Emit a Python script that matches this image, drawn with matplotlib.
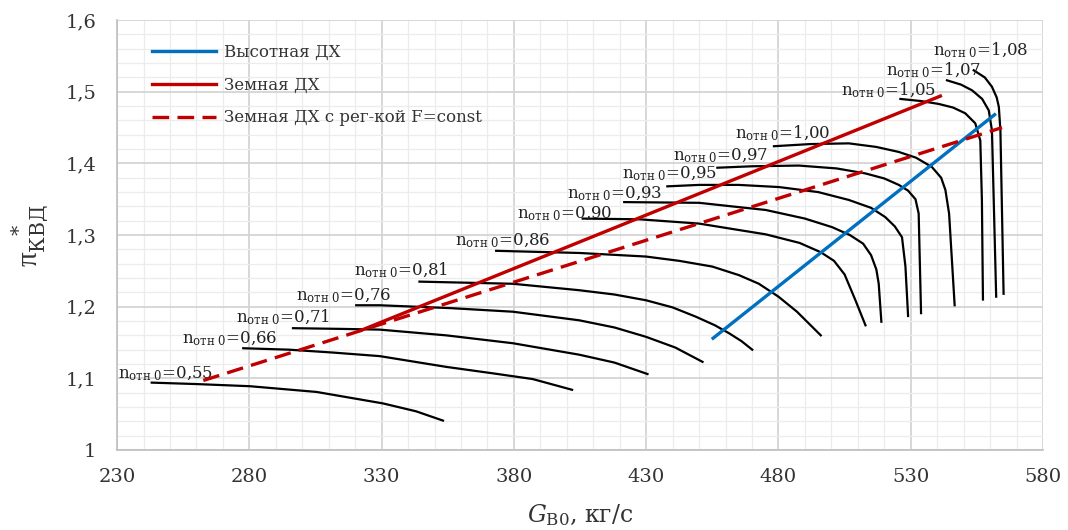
import matplotlib
matplotlib.use("Agg")
import matplotlib.pyplot as plt
from matplotlib.ticker import MultipleLocator, FixedLocator

plt.rcParams['font.family'] = ['DejaVu Serif']
plt.rcParams['mathtext.fontset'] = 'dejavuserif'

# ---- data ----
speed_labels = ["0,55", "0,66", "0,71", "0,76", "0,81", "0,86", "0,90",
                "0,93", "0,95", "0,97", "1,00", "1,05", "1,07", "1,08"]

g_055 = [243.1, 260, 280.2, 305.4, 330.5, 343, 353.2]
p_055 = [1.094, 1.092, 1.089, 1.081, 1.065, 1.054, 1.041]
g_066 = [277.7, 295, 311.5, 329.3, 354.4, 372, 387.1, 402.0]
p_066 = [1.142, 1.140, 1.136, 1.131, 1.116, 1.107, 1.099, 1.084]
g_071 = [296.5, 315, 329.3, 354.4, 379.6, 404.7, 418, 430.5]
p_071 = [1.170, 1.169, 1.168, 1.160, 1.149, 1.133, 1.122, 1.106]
g_076 = [320.4, 329.3, 356.0, 379.6, 404.7, 418, 429.9, 441, 451.3]
p_076 = [1.202, 1.202, 1.198, 1.193, 1.181, 1.171, 1.158, 1.143, 1.123]
g_081 = [344.3, 379.6, 404.7, 418, 429.9, 440, 448.8, 456, 461.3, 466, 470.1]
p_081 = [1.235, 1.232, 1.223, 1.217, 1.209, 1.199, 1.186, 1.174, 1.163, 1.152, 1.140]
g_086 = [373.3, 404.7, 429.9, 442.5, 455.0, 465.1, 472.6, 480, 487, 496.0]
p_086 = [1.278, 1.275, 1.270, 1.264, 1.256, 1.244, 1.232, 1.214, 1.193, 1.160]
g_090 = [406.0, 427.4, 450, 465.1, 475.2, 488, 496, 501, 505, 509.1, 512.9]
p_090 = [1.323, 1.322, 1.316, 1.307, 1.301, 1.289, 1.276, 1.264, 1.245, 1.209, 1.174]
g_093 = [421.7, 450, 465, 475.2, 490, 500.3, 507, 512, 515, 517, 517.9, 518.9]
p_093 = [1.346, 1.345, 1.339, 1.335, 1.323, 1.311, 1.300, 1.288, 1.272, 1.252, 1.232, 1.179]
g_095 = [438.0, 450, 465, 480.2, 495, 506.6, 515, 520.4, 524, 526.7, 528.0, 529.0]
p_095 = [1.368, 1.370, 1.370, 1.367, 1.360, 1.349, 1.338, 1.325, 1.312, 1.297, 1.256, 1.187]
g_097 = [456.9, 470, 487.7, 502, 512.9, 520, 525.5, 529, 531.8, 533.0, 533.9]
p_097 = [1.394, 1.396, 1.397, 1.393, 1.386, 1.379, 1.370, 1.362, 1.350, 1.330, 1.191]
g_100 = [478.3, 492, 506.6, 517, 525.5, 532, 538.0, 541.5, 543.1, 544.5, 546.6]
p_100 = [1.424, 1.427, 1.428, 1.423, 1.416, 1.408, 1.395, 1.380, 1.363, 1.330, 1.202]
g_105 = [526.1, 534, 540.6, 546, 550.6, 554.4, 556.3, 556.9, 557.3]
p_105 = [1.490, 1.487, 1.483, 1.478, 1.470, 1.456, 1.432, 1.349, 1.210]
g_107 = [543.7, 549, 553.2, 557, 559.5, 560.7, 562.3]
p_107 = [1.516, 1.510, 1.502, 1.490, 1.474, 1.446, 1.214]
g_108 = [553.8, 558, 560.7, 562.5, 563.3, 563.9, 565.1]
p_108 = [1.530, 1.520, 1.507, 1.492, 1.479, 1.446, 1.218]

speed_g = [g_055, g_066, g_071, g_076, g_081, g_086, g_090,
           g_093, g_095, g_097, g_100, g_105, g_107, g_108]
speed_p = [p_055, p_066, p_071, p_076, p_081, p_086, p_090,
           p_093, p_095, p_097, p_100, p_105, p_107, p_108]

# label anchor (left, bottom) in data coordinates
label_g = [230.4, 254.7, 275.0, 297.6, 319.6, 357.7, 381.1, 400.0, 420.8, 440.0, 463.4, 503.8, 520.8, 538.5]
label_p = [1.094, 1.142, 1.171, 1.203, 1.237, 1.279, 1.317, 1.345, 1.373, 1.398, 1.429, 1.488, 1.517, 1.544]

ground_g = [322.9, 541.2]
ground_p = [1.168, 1.494]
ground_f_g = [262.6, 564.5]
ground_f_p = [1.097, 1.450]
alt_g = [455.3, 561.7]
alt_p = [1.156, 1.468]

x_ticks = [230, 280, 330, 380, 430, 480, 530, 580]
y_ticks = [1.0, 1.1, 1.2, 1.3, 1.4, 1.5, 1.6]
y_ticklabels = ["1", "1,1", "1,2", "1,3", "1,4", "1,5", "1,6"]

# ---- figure ----
fig = plt.figure(figsize=(10.68, 5.30), dpi=100)
ax = fig.add_axes([0.1096, 0.151, 0.8670, 0.811])

ax.set_xlim(230, 580)
ax.set_ylim(1.0, 1.6)
ax.xaxis.set_major_locator(FixedLocator(x_ticks))
ax.xaxis.set_minor_locator(MultipleLocator(10))
ax.yaxis.set_major_locator(FixedLocator(y_ticks))
ax.yaxis.set_minor_locator(MultipleLocator(0.02))
ax.set_xticklabels([str(v) for v in x_ticks])
ax.set_yticklabels(y_ticklabels)
ax.grid(which='major', color='#d4d4d4', linewidth=1.3, zorder=0)
ax.grid(which='minor', color='#ececec', linewidth=0.9, zorder=0)
ax.set_axisbelow(True)
ax.tick_params(which='both', length=0, labelsize=14, colors='#333333')
ax.tick_params(axis='x', pad=13)
ax.tick_params(axis='y', pad=15)
for s in ['top', 'right']:
    ax.spines[s].set_visible(False)
for s in ['left', 'bottom']:
    ax.spines[s].set_color('#bfbfbf')
    ax.spines[s].set_linewidth(1.2)

for g, p, lab, lg, lp in zip(speed_g, speed_p, speed_labels, label_g, label_p):
    ax.plot(g, p, color='black', linewidth=1.6, zorder=3, solid_joinstyle='round')
    ax.text(lg, lp, r'n$_{\mathrm{отн\ 0}}$=' + lab, fontsize=12, color='#222222',
            ha='left', va='bottom', zorder=4)

ax.plot(alt_g, alt_p, color='#0070C0', linewidth=2.4, zorder=5, label='Высотная ДХ')
ax.plot(ground_g, ground_p, color='#C00000', linewidth=2.4, zorder=5, label='Земная ДХ')
ax.plot(ground_f_g, ground_f_p, color='#C00000', linewidth=2.4, linestyle=(0, (5, 2.5)),
        zorder=5, label='Земная ДХ с рег-кой F=const')

leg = ax.legend(loc='upper left', bbox_to_anchor=(0.022, 0.98), frameon=False, fontsize=12,
                handlelength=3.8, handletextpad=0.5, labelspacing=0.95, labelcolor='#333333')

ax.set_xlabel(r'$G_{\mathrm{В0}}$, кг/с', fontsize=17, color='#333333', labelpad=12)
ax.set_ylabel(r'π$_{\mathrm{КВД}}^{\ \ *}$', fontsize=21, color='#333333', labelpad=10,
              fontfamily=['Liberation Serif', 'DejaVu Serif'])

fig.savefig('out.png', dpi=100)
